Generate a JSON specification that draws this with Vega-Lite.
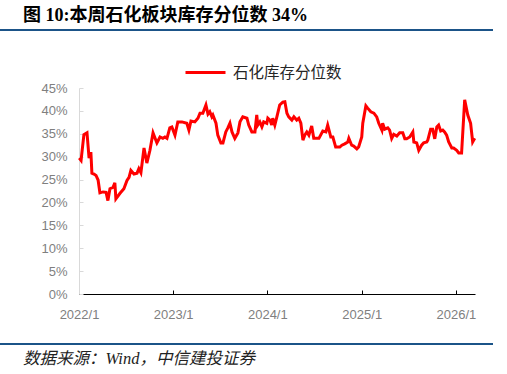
{
  "$schema": "https://vega.github.io/schema/vega-lite/v6.json",
  "padding": {"top": 7, "left": 0, "right": 0, "bottom": 0},
  "background": "white",
  "config": {"view": {"stroke": null}},
  "spacing": 51,
  "vconcat": [
    {
      "width": 493,
      "height": 2,
      "view": {"fill": "#1b5488", "stroke": null},
      "title": {"text": "图 10:本周石化板块库存分位数 34%", "anchor": "start", "dx": 23, "font": "Liberation Serif, Noto Sans CJK SC", "fontSize": 18, "fontWeight": "bold", "color": "#000000", "offset": 4},
      "data": {"values": []},
      "mark": {"type": "point"},
      "encoding": {}
    },
    {
      "spacing": 22,
      "vconcat": [
        {
          "width": 475,
          "height": 206,
          "data": {"values": [
            {"date":"2022-01-02","value":29.7},{"date":"2022-01-09","value":29.2},{"date":"2022-01-20","value":34.8},{"date":"2022-02-01","value":35.2},
            {"date":"2022-02-09","value":29.7},{"date":"2022-02-16","value":31.0},{"date":"2022-02-20","value":26.4},{"date":"2022-02-28","value":26.2},
            {"date":"2022-03-08","value":25.9},{"date":"2022-03-16","value":24.9},{"date":"2022-03-23","value":22.1},{"date":"2022-04-04","value":22.3},
            {"date":"2022-04-16","value":22.2},{"date":"2022-04-23","value":20.4},{"date":"2022-05-01","value":23.0},{"date":"2022-05-13","value":23.3},
            {"date":"2022-05-20","value":24.3},{"date":"2022-05-24","value":20.8},{"date":"2022-06-09","value":22.0},{"date":"2022-06-24","value":23.0},
            {"date":"2022-07-06","value":24.8},{"date":"2022-07-14","value":25.5},{"date":"2022-07-21","value":27.0},{"date":"2022-08-02","value":26.2},
            {"date":"2022-08-14","value":26.4},{"date":"2022-08-21","value":27.4},{"date":"2022-08-29","value":26.5},{"date":"2022-09-10","value":31.9},
            {"date":"2022-09-21","value":28.6},{"date":"2022-10-03","value":31.4},{"date":"2022-10-15","value":35.2},{"date":"2022-10-30","value":33.0},
            {"date":"2022-11-11","value":34.3},{"date":"2022-11-22","value":34.0},{"date":"2022-11-30","value":34.3},{"date":"2022-12-08","value":34.0},
            {"date":"2022-12-19","value":36.3},{"date":"2022-12-27","value":36.5},{"date":"2023-01-08","value":34.7},{"date":"2023-01-19","value":37.6},
            {"date":"2023-02-04","value":37.6},{"date":"2023-02-23","value":37.3},{"date":"2023-03-03","value":35.8},{"date":"2023-03-11","value":37.8},
            {"date":"2023-03-26","value":37.6},{"date":"2023-04-07","value":38.4},{"date":"2023-04-15","value":39.5},{"date":"2023-04-26","value":39.5},
            {"date":"2023-05-08","value":41.3},{"date":"2023-05-16","value":39.3},{"date":"2023-05-23","value":39.8},{"date":"2023-05-31","value":38.7},
            {"date":"2023-06-04","value":39.1},{"date":"2023-06-16","value":37.3},{"date":"2023-06-23","value":34.7},{"date":"2023-07-05","value":33.0},
            {"date":"2023-07-13","value":33.0},{"date":"2023-07-24","value":35.4},{"date":"2023-08-01","value":36.3},{"date":"2023-08-09","value":37.3},
            {"date":"2023-08-17","value":35.4},{"date":"2023-08-28","value":34.0},{"date":"2023-09-09","value":35.2},{"date":"2023-09-17","value":37.6},
            {"date":"2023-09-28","value":38.7},{"date":"2023-10-14","value":38.4},{"date":"2023-10-21","value":36.9},{"date":"2023-11-02","value":35.4},
            {"date":"2023-11-14","value":35.4},{"date":"2023-11-21","value":39.1},{"date":"2023-11-25","value":36.9},{"date":"2023-12-03","value":37.6},
            {"date":"2023-12-11","value":36.5},{"date":"2023-12-18","value":37.6},{"date":"2023-12-30","value":37.3},{"date":"2024-01-03","value":38.4},
            {"date":"2024-01-11","value":38.0},{"date":"2024-01-18","value":36.9},{"date":"2024-01-22","value":38.4},{"date":"2024-01-30","value":36.9},
            {"date":"2024-02-07","value":38.7},{"date":"2024-02-18","value":41.3},{"date":"2024-03-01","value":41.9},{"date":"2024-03-09","value":42.0},
            {"date":"2024-03-17","value":39.5},{"date":"2024-03-24","value":38.7},{"date":"2024-04-05","value":38.0},{"date":"2024-04-13","value":38.7},
            {"date":"2024-04-24","value":38.0},{"date":"2024-05-02","value":38.4},{"date":"2024-05-10","value":37.3},{"date":"2024-05-18","value":33.6},
            {"date":"2024-05-25","value":34.7},{"date":"2024-06-02","value":35.4},{"date":"2024-06-10","value":34.7},{"date":"2024-06-21","value":36.7},
            {"date":"2024-06-29","value":34.0},{"date":"2024-07-19","value":34.0},{"date":"2024-08-03","value":35.6},{"date":"2024-08-15","value":35.4},
            {"date":"2024-08-22","value":36.9},{"date":"2024-09-03","value":34.3},{"date":"2024-09-11","value":34.3},{"date":"2024-09-22","value":32.1},
            {"date":"2024-10-08","value":32.1},{"date":"2024-10-16","value":32.5},{"date":"2024-10-27","value":32.8},{"date":"2024-11-08","value":33.2},
            {"date":"2024-11-12","value":34.0},{"date":"2024-11-23","value":32.5},{"date":"2024-12-01","value":32.3},{"date":"2024-12-13","value":31.7},
            {"date":"2024-12-20","value":32.1},{"date":"2025-01-01","value":34.3},{"date":"2025-01-05","value":37.3},{"date":"2025-01-17","value":41.1},
            {"date":"2025-01-24","value":40.6},{"date":"2025-02-05","value":39.8},{"date":"2025-02-17","value":39.5},{"date":"2025-02-28","value":38.7},
            {"date":"2025-03-08","value":37.3},{"date":"2025-03-20","value":35.8},{"date":"2025-03-23","value":37.3},{"date":"2025-03-31","value":36.0},
            {"date":"2025-04-12","value":36.3},{"date":"2025-04-19","value":35.8},{"date":"2025-04-27","value":34.0},{"date":"2025-05-05","value":34.9},
            {"date":"2025-05-17","value":34.5},{"date":"2025-05-28","value":35.2},{"date":"2025-06-09","value":35.2},{"date":"2025-06-17","value":33.9},
            {"date":"2025-06-24","value":33.9},{"date":"2025-07-06","value":34.3},{"date":"2025-07-18","value":35.4},{"date":"2025-07-22","value":33.2},
            {"date":"2025-08-02","value":33.0},{"date":"2025-08-10","value":31.4},{"date":"2025-08-21","value":32.5},{"date":"2025-08-29","value":33.0},
            {"date":"2025-09-10","value":33.2},{"date":"2025-09-14","value":33.6},{"date":"2025-09-25","value":36.0},{"date":"2025-10-03","value":36.0},
            {"date":"2025-10-11","value":33.9},{"date":"2025-10-19","value":36.5},{"date":"2025-10-26","value":36.9},{"date":"2025-11-03","value":35.6},
            {"date":"2025-11-11","value":35.8},{"date":"2025-11-18","value":35.4},{"date":"2025-11-26","value":34.7},{"date":"2025-12-04","value":33.2},
            {"date":"2025-12-16","value":31.9},{"date":"2025-12-23","value":31.9},{"date":"2026-01-04","value":31.4},{"date":"2026-01-12","value":30.8},
            {"date":"2026-01-23","value":30.8},{"date":"2026-02-04","value":42.4},{"date":"2026-02-16","value":39.1},{"date":"2026-02-27","value":37.3},
            {"date":"2026-03-07","value":33.2},{"date":"2026-03-15","value":34.0}
          ]},
          "mark": {"type": "line", "strokeWidth": 3, "interpolate": "linear"},
          "encoding": {
            "x": {
              "field": "date", "type": "temporal",
              "scale": {"type": "utc", "range": [79, 475], "domain": [{"year": 2022, "month": 1, "date": 1, "utc": true}, {"year": 2026, "month": 3, "date": 16, "utc": true}]},
              "axis": {
                "title": null, "grid": false,
                "labelExpr": "utcFormat(datum.value, '%Y') + '/' + (utcmonth(datum.value) + 1)",
                "values": [{"year": 2022, "month": 1, "date": 1, "utc": true}, {"year": 2023, "month": 1, "date": 1, "utc": true}, {"year": 2024, "month": 1, "date": 1, "utc": true}, {"year": 2025, "month": 1, "date": 1, "utc": true}, {"year": 2026, "month": 1, "date": 1, "utc": true}],
                "domainColor": "#000000", "domainWidth": 1, "tickColor": "#000000", "tickSize": -4,
                "labelFont": "Liberation Sans", "labelFontSize": 13, "labelColor": "#7f7f7f", "labelPadding": 18, "labelFlush": false
              }
            },
            "y": {
              "field": "value", "type": "quantitative",
              "scale": {"domain": [0, 45], "nice": false},
              "axis": {
                "title": null, "grid": false, "offset": -79, "values": [0, 5, 10, 15, 20, 25, 30, 35, 40, 45], "labelExpr": "datum.value + '%'",
                "domainColor": "#d9d9d9", "tickColor": "#d9d9d9", "tickSize": -4,
                "labelFont": "Liberation Sans", "labelFontSize": 13, "labelColor": "#7f7f7f", "labelPadding": 16, "labelFlush": false
              }
            },
            "color": {
              "datum": "石化库存分位数",
              "scale": {"range": ["#ff0000"]},
              "legend": {
                "title": null, "orient": "none", "legendX": 184, "legendY": 22, "symbolType": "stroke", "symbolSize": 1600, "symbolStrokeWidth": 3,
                "labelFont": "Noto Sans CJK SC", "labelFontSize": 15.5, "labelColor": "#262626", "labelOffset": 6
              }
            }
          }
        },
        {
          "width": 493,
          "height": 2,
          "view": {"fill": "#1b5488", "stroke": null},
          "title": {"text": "数据来源：Wind，中信建投证券", "orient": "bottom", "anchor": "start", "dx": 23, "font": "Liberation Serif, Noto Sans CJK SC", "fontSize": 16.5, "fontStyle": "italic", "fontWeight": "normal", "color": "#222222", "offset": 6},
          "data": {"values": []},
          "mark": {"type": "point"},
          "encoding": {}
        }
      ]
    }
  ]
}
